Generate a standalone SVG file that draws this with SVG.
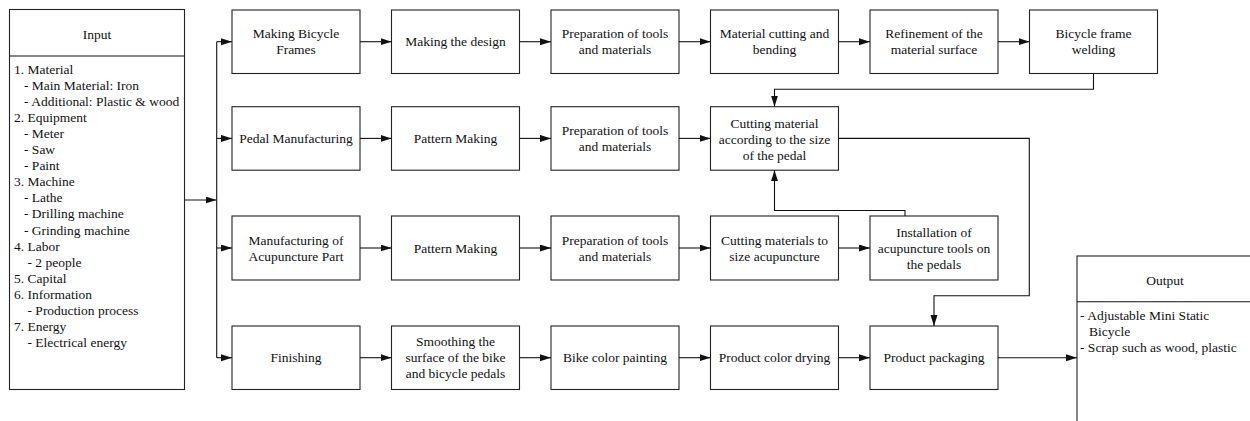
<svg xmlns="http://www.w3.org/2000/svg" width="1250" height="421" viewBox="0 0 1250 421" font-family="'Liberation Serif', 'Times New Roman', Times, 'DejaVu Serif', serif">
<style>
.b{fill:#fff;stroke:#222;stroke-width:1.1}
.t{font-family:'Liberation Serif','Times New Roman',Times,'DejaVu Serif',serif;font-size:13.5px;fill:#111}
.c{text-anchor:middle}
.l{fill:none;stroke:#111;stroke-width:1.1}
</style>
<defs>
<marker id="ah" markerUnits="userSpaceOnUse" markerWidth="11" markerHeight="8" refX="11" refY="3.5" orient="auto">
<path d="M0,0 L11,3.5 L0,7 z" fill="#111"/>
</marker>
</defs>
<rect width="1250" height="421" fill="#fff"/>

<g id="input">
<rect class="b" x="9.5" y="9.5" width="175" height="380"/>
<line class="l" x1="9.5" y1="56" x2="184.5" y2="56"/>
<text class="t c" x="97" y="38.5">Input</text>
<text class="t" x="14" y="73.5">1. Material</text>
<text class="t" x="24" y="89.6">- Main Material: Iron</text>
<text class="t" x="24" y="105.7">- Additional: Plastic &amp; wood</text>
<text class="t" x="14" y="121.8">2. Equipment</text>
<text class="t" x="24" y="137.9">- Meter</text>
<text class="t" x="24" y="154">- Saw</text>
<text class="t" x="24" y="170.1">- Paint</text>
<text class="t" x="14" y="186.2">3. Machine</text>
<text class="t" x="24" y="202.3">- Lathe</text>
<text class="t" x="24" y="218.4">- Drilling machine</text>
<text class="t" x="24" y="234.5">- Grinding machine</text>
<text class="t" x="14" y="250.6">4. Labor</text>
<text class="t" x="27.5" y="266.7">- 2 people</text>
<text class="t" x="14" y="282.8">5. Capital</text>
<text class="t" x="14" y="298.9">6. Information</text>
<text class="t" x="27.5" y="315">- Production process</text>
<text class="t" x="14" y="331.1">7. Energy</text>
<text class="t" x="27.5" y="347.2">- Electrical energy</text>
</g>

<g id="output">
<rect class="b" x="1077" y="256" width="177" height="180"/>
<line class="l" x1="1077" y1="301.7" x2="1254" y2="301.7"/>
<text class="t c" x="1165" y="284.5">Output</text>
<text class="t" x="1080" y="319.5">- Adjustable Mini Static</text>
<text class="t" x="1089" y="335.5">Bicycle</text>
<text class="t" x="1080" y="351.5">- Scrap such as wood, plastic</text>
</g>

<g id="r1b1"><rect class="b" x="232" y="10" width="128" height="63.5"/><text class="t c" x="296" y="38">Making Bicycle</text><text class="t c" x="296" y="54">Frames</text></g>
<g id="r1b2"><rect class="b" x="391.5" y="10" width="128" height="63.5"/><text class="t c" x="455.5" y="46">Making the design</text></g>
<g id="r1b3"><rect class="b" x="551" y="10" width="128" height="63.5"/><text class="t c" x="615" y="38">Preparation of tools</text><text class="t c" x="615" y="54">and materials</text></g>
<g id="r1b4"><rect class="b" x="710.5" y="10" width="128" height="63.5"/><text class="t c" x="774.5" y="38">Material cutting and</text><text class="t c" x="774.5" y="54">bending</text></g>
<g id="r1b5"><rect class="b" x="870" y="10" width="128" height="63.5"/><text class="t c" x="934" y="38">Refinement of the</text><text class="t c" x="934" y="54">material surface</text></g>
<g id="r1b6"><rect class="b" x="1029.5" y="10" width="128" height="63.5"/><text class="t c" x="1093.5" y="38">Bicycle frame</text><text class="t c" x="1093.5" y="54">welding</text></g>

<g id="r2b1"><rect class="b" x="232" y="106.7" width="128" height="63.5"/><text class="t c" x="296" y="143">Pedal Manufacturing</text></g>
<g id="r2b2"><rect class="b" x="391.5" y="106.7" width="128" height="63.5"/><text class="t c" x="455.5" y="143">Pattern Making</text></g>
<g id="r2b3"><rect class="b" x="551" y="106.7" width="128" height="63.5"/><text class="t c" x="615" y="135">Preparation of tools</text><text class="t c" x="615" y="151">and materials</text></g>
<g id="r2b4"><rect class="b" x="710.5" y="106.7" width="128" height="63.5"/><text class="t c" x="774.5" y="127.5">Cutting material</text><text class="t c" x="774.5" y="143.5">according to the size</text><text class="t c" x="774.5" y="159.5">of the pedal</text></g>

<g id="r3b1"><rect class="b" x="232" y="216" width="128" height="64"/><text class="t c" x="296" y="244.5">Manufacturing of</text><text class="t c" x="296" y="260.5">Acupuncture Part</text></g>
<g id="r3b2"><rect class="b" x="391.5" y="216" width="128" height="64"/><text class="t c" x="455.5" y="252.5">Pattern Making</text></g>
<g id="r3b3"><rect class="b" x="551" y="216" width="128" height="64"/><text class="t c" x="615" y="244.5">Preparation of tools</text><text class="t c" x="615" y="260.5">and materials</text></g>
<g id="r3b4"><rect class="b" x="710.5" y="216" width="128" height="64"/><text class="t c" x="774.5" y="244.5">Cutting materials to</text><text class="t c" x="774.5" y="260.5">size acupuncture</text></g>
<g id="r3b5"><rect class="b" x="870" y="216" width="128" height="64"/><text class="t c" x="934" y="236.8">Installation of</text><text class="t c" x="934" y="252.8">acupuncture tools on</text><text class="t c" x="934" y="268.8">the pedals</text></g>

<g id="r4b1"><rect class="b" x="232" y="326" width="128" height="63.5"/><text class="t c" x="296" y="362">Finishing</text></g>
<g id="r4b2"><rect class="b" x="391.5" y="326" width="128" height="63.5"/><text class="t c" x="455.5" y="346">Smoothing the</text><text class="t c" x="455.5" y="362">surface of the bike</text><text class="t c" x="455.5" y="378">and bicycle pedals</text></g>
<g id="r4b3"><rect class="b" x="551" y="326" width="128" height="63.5"/><text class="t c" x="615" y="362">Bike color painting</text></g>
<g id="r4b4"><rect class="b" x="710.5" y="326" width="128" height="63.5"/><text class="t c" x="774.5" y="362">Product color drying</text></g>
<g id="r4b5"><rect class="b" x="870" y="326" width="128" height="63.5"/><text class="t c" x="934" y="362">Product packaging</text></g>

<g id="connectors">
<line class="l" x1="184.5" y1="200" x2="216.5" y2="200" marker-end="url(#ah)"/>
<line class="l" x1="216.7" y1="41.7" x2="216.7" y2="357.7"/>
<line class="l" x1="216.7" y1="41.7" x2="232" y2="41.7" marker-end="url(#ah)"/>
<line class="l" x1="216.7" y1="138.4" x2="232" y2="138.4" marker-end="url(#ah)"/>
<line class="l" x1="216.7" y1="248" x2="232" y2="248" marker-end="url(#ah)"/>
<line class="l" x1="216.7" y1="357.7" x2="232" y2="357.7" marker-end="url(#ah)"/>

<line class="l" x1="360" y1="41.7" x2="391.5" y2="41.7" marker-end="url(#ah)"/>
<line class="l" x1="519.5" y1="41.7" x2="551" y2="41.7" marker-end="url(#ah)"/>
<line class="l" x1="679" y1="41.7" x2="710.5" y2="41.7" marker-end="url(#ah)"/>
<line class="l" x1="838.5" y1="41.7" x2="870" y2="41.7" marker-end="url(#ah)"/>
<line class="l" x1="998" y1="41.7" x2="1029.5" y2="41.7" marker-end="url(#ah)"/>

<line class="l" x1="360" y1="138.4" x2="391.5" y2="138.4" marker-end="url(#ah)"/>
<line class="l" x1="519.5" y1="138.4" x2="551" y2="138.4" marker-end="url(#ah)"/>
<line class="l" x1="679" y1="138.4" x2="710.5" y2="138.4" marker-end="url(#ah)"/>

<line class="l" x1="360" y1="248" x2="391.5" y2="248" marker-end="url(#ah)"/>
<line class="l" x1="519.5" y1="248" x2="551" y2="248" marker-end="url(#ah)"/>
<line class="l" x1="679" y1="248" x2="710.5" y2="248" marker-end="url(#ah)"/>
<line class="l" x1="838.5" y1="248" x2="870" y2="248" marker-end="url(#ah)"/>

<line class="l" x1="360" y1="357.7" x2="391.5" y2="357.7" marker-end="url(#ah)"/>
<line class="l" x1="519.5" y1="357.7" x2="551" y2="357.7" marker-end="url(#ah)"/>
<line class="l" x1="679" y1="357.7" x2="710.5" y2="357.7" marker-end="url(#ah)"/>
<line class="l" x1="838.5" y1="357.7" x2="870" y2="357.7" marker-end="url(#ah)"/>
<line class="l" x1="998" y1="357.7" x2="1077" y2="357.7" marker-end="url(#ah)"/>

<polyline class="l" points="1093.5,73.5 1093.5,89.3 774.5,89.3 774.5,106.7" marker-end="url(#ah)"/>
<polyline class="l" points="838.5,138.4 1029.3,138.4 1029.3,295.7 934,295.7 934,326" marker-end="url(#ah)"/>
<polyline class="l" points="905,216 905,210.5 774.5,210.5 774.5,170.2" marker-end="url(#ah)"/>
</g>
</svg>
